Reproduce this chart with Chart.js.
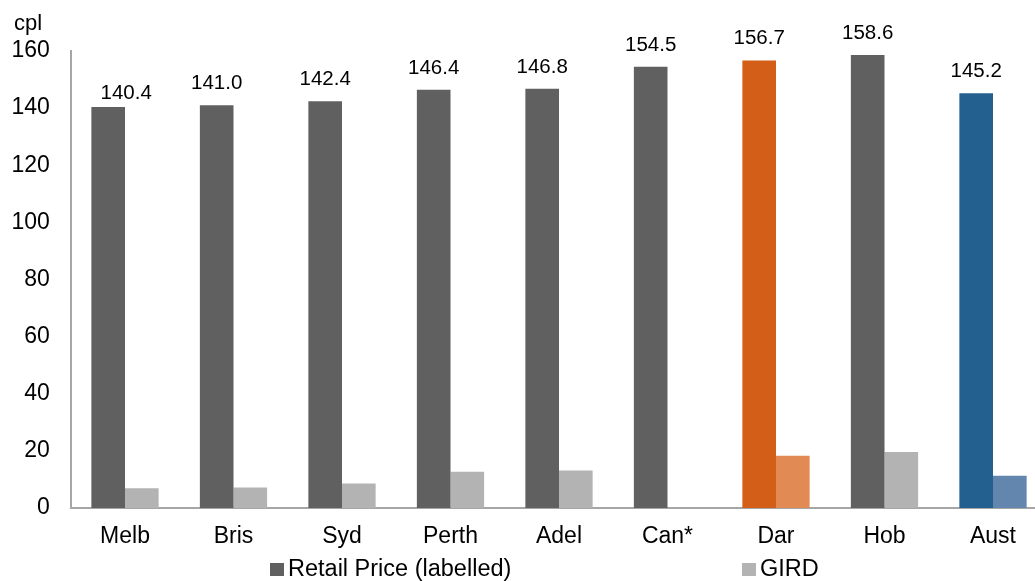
<!DOCTYPE html>
<html>
<head>
<meta charset="utf-8">
<script src="https://cdn.jsdelivr.net/npm/chart.js@4/dist/chart.umd.min.js"></script>
<style>
  html, body { margin: 0; padding: 0; background: #ffffff; overflow: hidden; width: 1035px; height: 581px; }
  #wrap { position: relative; width: 1060px; height: 581px; }
  canvas { display: block; }
</style>
</head>
<body>
<div id="wrap"><canvas id="chart" width="1060" height="581"></canvas></div>
<script>
// Retail petrol prices by city, cents per litre
const categories = ['Melb', 'Bris', 'Syd', 'Perth', 'Adel', 'Can*', 'Dar', 'Hob', 'Aust'];
const retailPrice = [140.4, 141.0, 142.4, 146.4, 146.8, 154.5, 156.7, 158.6, 145.2];
const girdValues = [6.9, 7.2, 8.6, 12.7, 13.1, null, 18.3, 19.6, 11.3];
const yTicks = [0, 20, 40, 60, 80, 100, 120, 140, 160];
const seriesNames = ['Retail Price (labelled)', 'GIRD'];

// Bar colours: grey by default, Darwin in orange, national average in blue
const retailColours = ['#606060', '#606060', '#606060', '#606060', '#606060', '#606060', '#d25e17', '#606060', '#235f8f'];
const girdColours = ['#b3b3b3', '#b3b3b3', '#b3b3b3', '#b3b3b3', '#b3b3b3', '#b3b3b3', '#e28a54', '#b3b3b3', '#6286ad'];

const FONT = 'Arial, "Liberation Sans", sans-serif';
const AXIS_COLOUR = '#a6a6a6';

// Value labels above the retail bars, with a small manual nudge for Melbourne
const valueLabels = {
  id: 'valueLabels',
  afterDatasetsDraw(chart) {
    const ctx = chart.ctx;
    const meta = chart.getDatasetMeta(0);
    const nudge = { 0: { dx: 18, dy: 8 } };
    ctx.save();
    ctx.font = '20.5px ' + FONT;
    ctx.fillStyle = '#000000';
    ctx.textAlign = 'center';
    ctx.textBaseline = 'alphabetic';
    meta.data.forEach((bar, i) => {
      const n = nudge[i] || { dx: 0, dy: 0 };
      ctx.fillText(retailPrice[i].toFixed(1), bar.x + n.dx, bar.y - 16 + n.dy);
    });
    ctx.restore();
  }
};

// Axis unit and the legend row beneath the category labels
const extras = {
  id: 'extras',
  afterDraw(chart) {
    const ctx = chart.ctx;
    ctx.save();
    ctx.fillStyle = '#000000';
    ctx.font = '22px ' + FONT;
    ctx.textAlign = 'left';
    ctx.textBaseline = 'alphabetic';
    ctx.fillText('cpl', 14, 30);

    const items = [
      { x: 270, colour: retailColours[0], text: seriesNames[0] },
      { x: 742, colour: girdColours[0], text: seriesNames[1] }
    ];
    ctx.font = '23.5px ' + FONT;
    ctx.textBaseline = 'middle';
    items.forEach(it => {
      ctx.fillStyle = it.colour;
      ctx.fillRect(it.x, 563, 14, 13);
      ctx.fillStyle = '#000000';
      ctx.fillText(it.text, it.x + 18, 569.5);
    });
    ctx.restore();
  }
};

new Chart(document.getElementById('chart'), {
  type: 'bar',
  data: {
    labels: categories,
    datasets: [
      {
        label: seriesNames[0],
        data: retailPrice,
        backgroundColor: retailColours,
        borderWidth: 0,
        categoryPercentage: 0.62,
        barPercentage: 1.0
      },
      {
        label: seriesNames[1],
        data: girdValues,
        backgroundColor: girdColours,
        borderWidth: 0,
        categoryPercentage: 0.62,
        barPercentage: 1.0
      }
    ]
  },
  options: {
    responsive: false,
    animation: false,
    events: [],
    layout: { padding: { left: 0, right: 12.75, top: 51, bottom: 0 } },
    plugins: {
      legend: { display: false },
      tooltip: { enabled: false }
    },
    scales: {
      x: {
        grid: { display: false, drawTicks: false },
        border: { display: true, color: AXIS_COLOUR, width: 2 },
        ticks: {
          color: '#000000',
          font: { family: FONT, size: 23 },
          padding: 15,
          maxRotation: 0,
          autoSkip: false
        },
        afterFit(scale) { scale.height = 73; }
      },
      y: {
        min: 0,
        max: 160,
        grid: { display: false, drawTicks: false },
        border: { display: true, color: AXIS_COLOUR, width: 2 },
        afterBuildTicks(scale) { scale.ticks = yTicks.map(v => ({ value: v })); },
        ticks: {
          color: '#000000',
          font: { family: FONT, size: 23 },
          padding: 21
        },
        afterFit(scale) { scale.width = 70.75; }
      }
    }
  },
  plugins: [valueLabels, extras]
});
</script>
</body>
</html>
